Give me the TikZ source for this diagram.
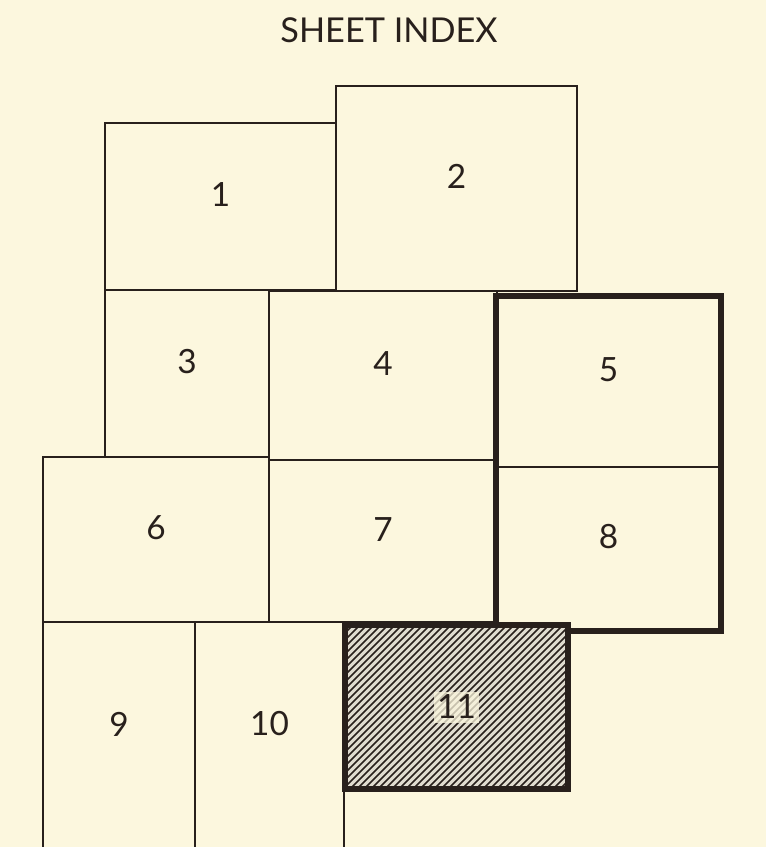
\documentclass[tikz,border=0pt]{standalone}
\usepackage{fontspec}
\setmainfont{Lato}
\usepackage{xcolor}
\usepackage{tikz}
\usetikzlibrary{fit}
\definecolor{paper}{RGB}{252,247,222}
\definecolor{ink}{RGB}{40,32,28}
\definecolor{hatchbg}{RGB}{224,220,208}

\begin{document}
\begin{tikzpicture}[
    x=0.02cm, y=-0.02cm,
    sheet/.style={rectangle, draw=ink, line width=1.4pt, inner sep=0pt, font=\fontsize{19}{22}\selectfont, text=ink},
    heavy/.style={rectangle, draw=ink, line width=3.5pt, inner sep=0pt},
    hatched/.style={fill=hatchbg, path picture={
        \foreach \k in {-170,-163,...,240}
            \draw[ink, line width=0.9pt] ([xshift=\k*0.02cm]path picture bounding box.south west) -- ++(4cm,4cm);}},
]
\fill[paper] (0,0) rectangle (766,847);
\useasboundingbox (0,0) rectangle (766,847);

\node[text=ink, font=\fontsize{19.5}{22}\selectfont] (title) at (389,30) {SHEET INDEX};

% top row
\node[sheet, fit={(105,123) (336,290)}] (s1) {1};
\node[sheet, fit={(336,86) (577,291)}]  (s2) {2};
% second row
\node[sheet, fit={(105,290) (269,457)}] (s3) {3};
\node[sheet, fit={(269,291) (497,460)}] (s4) {4};
\node[sheet, fit={(497,297) (720,467)}] (s5) {5};
% third row
\node[sheet, fit={(43,457) (269,622)}]  (s6) {6};
\node[sheet, fit={(269,460) (497,622)}] (s7) {7};
\node[sheet, fit={(497,467) (720,630)}] (s8) {8};
% bottom row
\node[sheet, fit={(43,622) (195,850)}]  (s9) {9};
\node[sheet, fit={(195,622) (344,850)}] (s10) {10};

% heavy outlines
\node[heavy, fit=(s5) (s8)] (blk) {};
\node[heavy, hatched, fit={(345,625) (568,789)}] (s11) {};
\node[fill=paper, fill opacity=0.75, text opacity=1, text=ink, inner sep=2pt, font=\fontsize{19}{22}\selectfont] (n11) at (s11.center) {11};
\end{tikzpicture}
\end{document}
